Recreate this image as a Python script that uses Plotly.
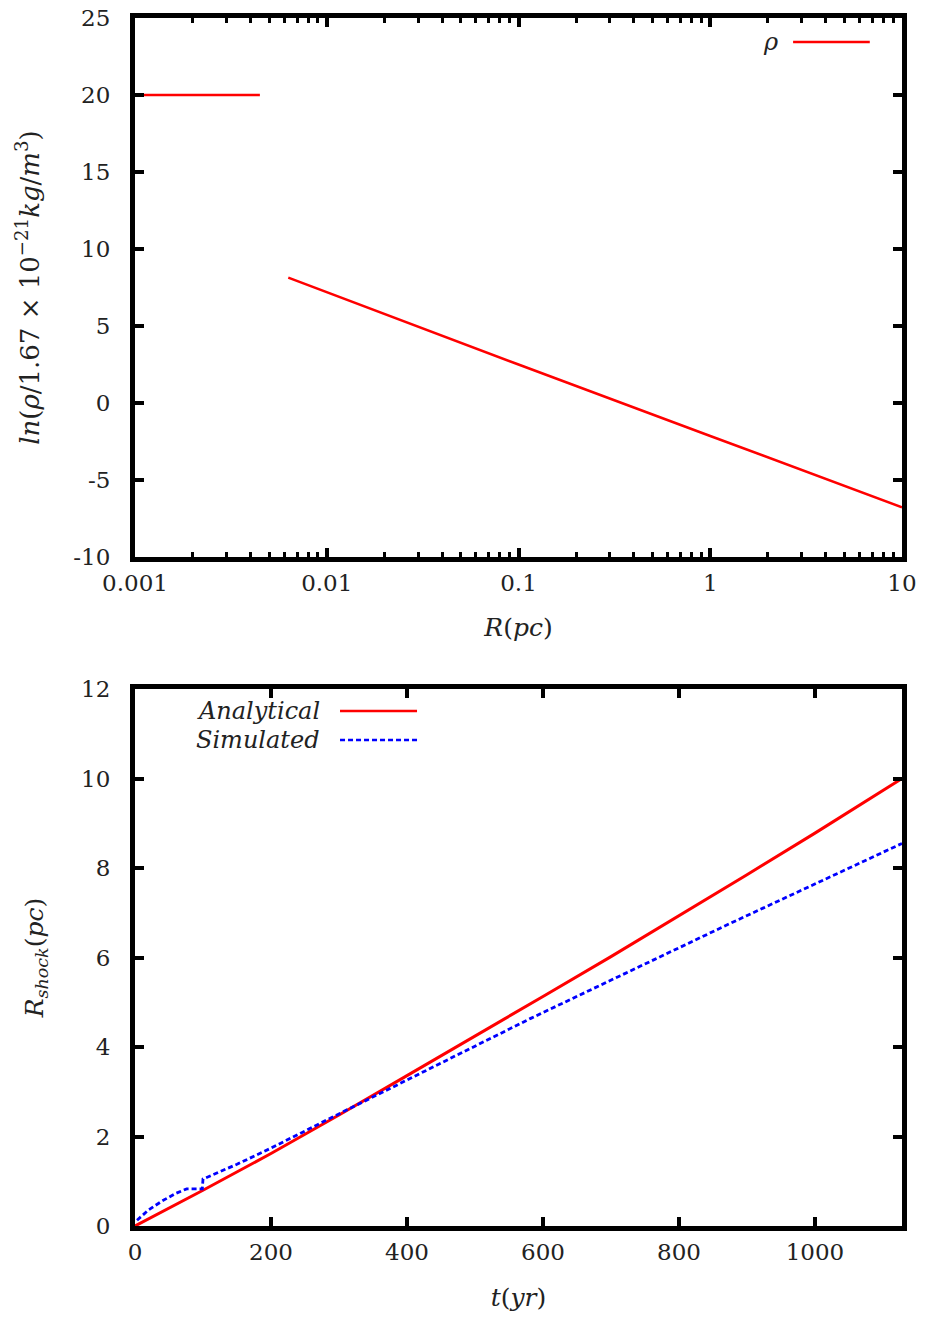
import plotly.graph_objects as go
from plotly.subplots import make_subplots

# ---- density profile (top panel) ----
r_core = [0.001, 0.00448]
lnrho_core = [20.0, 20.0]
r_env = [0.0063, 0.1, 1.0, 10.0]
lnrho_env = [8.14, 2.50, -2.14, -6.77]

r_ticks = [0.001, 0.01, 0.1, 1, 10]
r_ticktext = ["0.001", "0.01", "0.1", "1", "10"]
r_minor = [m * 10.0 ** e for e in range(-3, 1) for m in range(2, 10)]
lnrho_ticks = [-10, -5, 0, 5, 10, 15, 20, 25]
lnrho_ticktext = ["-10", "-5", "0", "5", "10", "15", "20", "25"]

# ---- shock radius vs time (bottom panel) ----
t_analytical = [0, 100, 200, 300, 400, 500, 600, 700, 800, 900, 1000, 1128]
r_analytical = [0.0, 0.80, 1.62, 2.48, 3.36, 4.24, 5.13, 6.02, 6.93, 7.85, 8.78, 10.0]
t_simulated = [3, 20, 40, 60, 76, 99, 100, 150, 200, 290, 582, 875, 1128]
r_simulated = [0.13, 0.36, 0.56, 0.73, 0.83, 0.83, 1.05, 1.38, 1.74, 2.43, 4.64, 6.76, 8.55]

t_ticks = [0, 200, 400, 600, 800, 1000]
rs_ticks = [0, 2, 4, 6, 8, 10, 12]

FONT = "DejaVu Serif"
FS = 23

fig = make_subplots(rows=2, cols=1, vertical_spacing=0.11)

# top panel: ln(rho) with a gap between core and envelope
fig.add_trace(go.Scatter(
    x=r_core + [None] + r_env, y=lnrho_core + [None] + lnrho_env,
    mode="lines", line=dict(color="#ff0000", width=2.5),
    connectgaps=False, showlegend=False), row=1, col=1)

fig.add_trace(go.Scatter(
    x=t_analytical, y=r_analytical, mode="lines",
    line=dict(color="#ff0000", width=3), showlegend=False), row=2, col=1)
fig.add_trace(go.Scatter(
    x=t_simulated, y=r_simulated, mode="lines",
    line=dict(color="#0000ff", width=2.8, dash="5px,3px"), showlegend=False), row=2, col=1)

axis_common = dict(
    showline=True, linecolor="black", linewidth=5, mirror="allticks",
    ticks="inside", ticklen=9, tickwidth=4, tickcolor="black",
    showgrid=False, zeroline=False, automargin=False,
    tickfont=dict(family=FONT, size=FS, color="#222"),
)
title_font = dict(family=FONT, size=25, color="#222")

fig.update_xaxes(
    type="log", range=[-3, 1], tickmode="array", tickvals=r_ticks, ticktext=r_ticktext,
    minor=dict(tickmode="array", tickvals=r_minor, ticks="inside", ticklen=5,
               tickwidth=3, tickcolor="black", showgrid=False),
    title=dict(text="<i>R</i>(<i>pc</i>)", standoff=25, font=title_font),
    ticklabelstandoff=1, **axis_common, row=1, col=1)
fig.update_yaxes(
    range=[-10, 25], tickmode="array", tickvals=lnrho_ticks, ticktext=lnrho_ticktext,
    title=dict(text="<i>ln</i>(<i>ρ</i>/1.67 × 10<sup>−21</sup><i>kg</i>/<i>m</i><sup>3</sup>)",
               standoff=28, font=dict(family=FONT, size=26, color="#222")),
    ticklabelstandoff=15, **axis_common, row=1, col=1)

fig.update_xaxes(
    range=[0, 1128], tickmode="array", tickvals=t_ticks,
    title=dict(text="<i>t</i>(<i>yr</i>)", standoff=26, font=title_font),
    ticklabelstandoff=1, **axis_common, row=2, col=1)
fig.update_yaxes(
    range=[0, 12], tickmode="array", tickvals=rs_ticks,
    title=dict(text="<i>R</i><sub><i>shock</i></sub>(<i>pc</i>)", standoff=32, font=title_font),
    ticklabelstandoff=15, **axis_common, row=2, col=1)

# keys drawn gnuplot-style: label on the left, sample line on the right
key_font = dict(family=FONT, size=24, color="#222")
keys = [
    ("<i>ρ</i>", "#ff0000", "solid", 0.841, 0.858, 0.958, 0.9801),
    ("<i>Analytical</i>", "#ff0000", "solid", 0.2438, 0.2673, 0.3677, 0.4263),
    ("<i>Simulated</i>", "#0000ff", "5px,3px", 0.2438, 0.2673, 0.3677, 0.4023),
]
for label, color, dash, xt, x0, x1, yk in keys:
    fig.add_annotation(text=label, x=xt, y=yk, xref="paper", yref="paper",
                       xanchor="right", yanchor="middle", showarrow=False, font=key_font)
    fig.add_shape(type="line", x0=x0, x1=x1, y0=yk, y1=yk, xref="paper", yref="paper",
                  line=dict(color=color, width=2.5, dash=dash))

fig.update_layout(
    width=930, height=1320,
    margin=dict(l=135, r=28, t=18, b=94),
    plot_bgcolor="white", paper_bgcolor="white",
    font=dict(family=FONT, size=FS, color="#222"),
)
fig.update_layout(
    yaxis=dict(domain=[0.5538, 1.0]),
    yaxis2=dict(domain=[0.0, 0.4445]),
)

fig.write_html("out.html")
